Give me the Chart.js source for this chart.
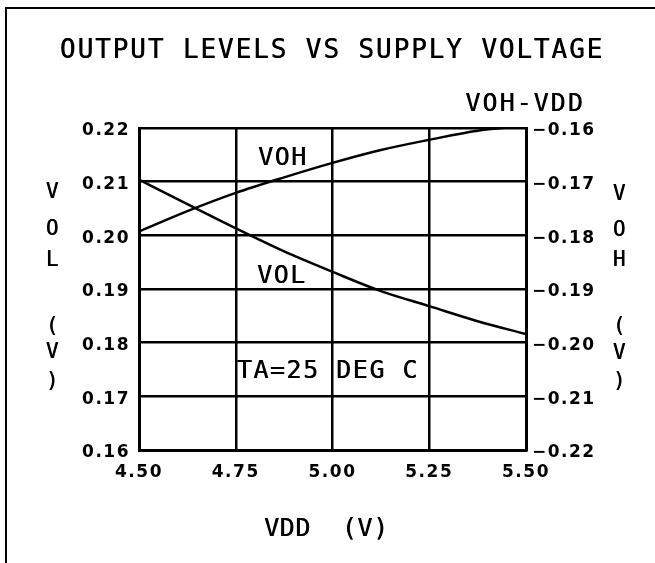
<!DOCTYPE html>
<html>
<head>
<meta charset="utf-8">
<script src="https://cdn.jsdelivr.net/npm/chart.js@4.4.0/dist/chart.umd.min.js"></script>
<style>
  html, body { margin: 0; padding: 0; background: #fff; }
  #chart { display: block; }
</style>
</head>
<body>
<canvas id="chart" width="655" height="563"></canvas>
<script>
// supply voltage VDD (V)
const vdd = [4.50, 4.625, 4.75, 4.875, 5.00, 5.125, 5.25, 5.375, 5.50];
// VOL (V) - left axis
const vol = [0.2104, 0.2058, 0.2013, 0.1970, 0.1932, 0.1896, 0.1868, 0.1840, 0.1816];
// VOH - VDD (V) - right axis
const vohMinusVdd = [-0.1793, -0.1755, -0.1721, -0.1692, -0.1665, -0.1641, -0.1622, -0.1605, -0.1596];

const xTicks = [4.50, 4.75, 5.00, 5.25, 5.50];
const volTicks = [0.16, 0.17, 0.18, 0.19, 0.20, 0.21, 0.22];
const vohTicks = [-0.22, -0.21, -0.20, -0.19, -0.18, -0.17, -0.16];

const MONO = '"DejaVu Sans Mono", monospace';
const tickFont = { family: '"DejaVu Sans", sans-serif', size: 17, weight: 'bold' };

function say(ctx, text, x, y, size, spacing) {
    ctx.font = size + 'px ' + MONO;
    ctx.letterSpacing = spacing + 'px';
    ctx.textAlign = 'center';
    ctx.textBaseline = 'middle';
    ctx.fillText(text, x + spacing / 2, y);
    // second pass a hair to the right, pen strokes are a bit heavier than the font
    ctx.fillText(text, x + spacing / 2 + 0.5, y);
}

// frame, title, axis titles and notes, drawn like the old plotter page
const plotterText = {
    id: 'plotterText',
    beforeDraw(chart) {
        const ctx = chart.ctx;
        ctx.save();
        ctx.fillStyle = '#fff';
        ctx.fillRect(0, 0, chart.width, chart.height);
        ctx.strokeStyle = '#000';
        ctx.lineWidth = 2;
        ctx.beginPath();
        ctx.moveTo(6, chart.height);
        ctx.lineTo(6, 8);
        ctx.lineTo(chart.width, 8);
        ctx.stroke();
        ctx.restore();
        ctx.letterSpacing = '1.5px'; // tick labels
    },
    afterDraw(chart) {
        const ctx = chart.ctx;
        ctx.save();
        ctx.fillStyle = '#000';
        say(ctx, 'OUTPUT LEVELS VS SUPPLY VOLTAGE', 331, 51, 26, 1.9);
        say(ctx, 'VOH-VDD', 524, 104, 25, 2);
        say(ctx, 'VDD  (V)', 326, 529, 25, 0.5);
        say(ctx, 'VOH', 282, 158, 25, 1.5);
        say(ctx, 'VOL', 281, 276, 25, 1.5);
        say(ctx, 'TA=25 DEG C', 327, 371, 25, 1.5);

        const left = [['V', 193], ['O', 230], ['L', 261], ['(', 327], ['V', 353], [')', 382]];
        const right = [['V', 195], ['O', 231], ['H', 261], ['(', 327], ['V', 354], [')', 382]];
        left.forEach(([ch, y]) => say(ctx, ch, 52, y, 21, 0));
        right.forEach(([ch, y]) => say(ctx, ch, 619, y, 21, 0));
        ctx.restore();
    }
};

const points = ys => vdd.map((x, i) => ({ x: x, y: ys[i] }));

new Chart(document.getElementById('chart'), {
    type: 'line',
    data: {
        datasets: [{
            label: 'VOH',
            data: points(vohMinusVdd),
            yAxisID: 'y2',
            borderColor: '#000',
            borderWidth: 2.5,
            pointRadius: 0,
            cubicInterpolationMode: 'monotone',
            fill: false
        }, {
            label: 'VOL',
            data: points(vol),
            yAxisID: 'y',
            borderColor: '#000',
            borderWidth: 2.5,
            pointRadius: 0,
            cubicInterpolationMode: 'monotone',
            fill: false
        }]
    },
    options: {
        responsive: false,
        devicePixelRatio: 1,
        animation: false,
        layout: { padding: { top: 128, left: 0, right: 0, bottom: 0 } },
        plugins: {
            legend: { display: false },
            tooltip: { enabled: false },
            title: { display: false }
        },
        scales: {
            x: {
                type: 'linear',
                min: 4.5,
                max: 5.5,
                afterBuildTicks: s => { s.ticks = xTicks.map(v => ({ value: v })); },
                afterFit: s => { s.height = 113; },
                grid: { color: '#000', lineWidth: 2.5, drawTicks: false },
                border: { color: '#000', width: 3 },
                ticks: {
                    color: '#000', font: tickFont, padding: 12,
                    maxRotation: 0, autoSkip: false,
                    callback: v => v.toFixed(2)
                }
            },
            y: {
                position: 'left',
                min: 0.16,
                max: 0.22,
                afterBuildTicks: s => { s.ticks = volTicks.map(v => ({ value: v })); },
                afterFit: s => { s.width = 139; },
                grid: { color: '#000', lineWidth: 2.5, drawTicks: false },
                border: { color: '#000', width: 3 },
                ticks: {
                    color: '#000', font: tickFont, padding: 9, labelOffset: 3,
                    autoSkip: false,
                    callback: v => v.toFixed(2)
                }
            },
            y2: {
                position: 'right',
                min: -0.22,
                max: -0.16,
                afterBuildTicks: s => { s.ticks = vohTicks.map(v => ({ value: v })); },
                afterFit: s => { s.width = 129; },
                grid: { display: false, drawTicks: false },
                border: { color: '#000', width: 3 },
                ticks: {
                    color: '#000', font: tickFont, padding: 6, labelOffset: 3,
                    autoSkip: false,
                    callback: v => v.toFixed(2).replace('-', '\u2212')
                }
            }
        }
    },
    plugins: [plotterText]
});
</script>
</body>
</html>
